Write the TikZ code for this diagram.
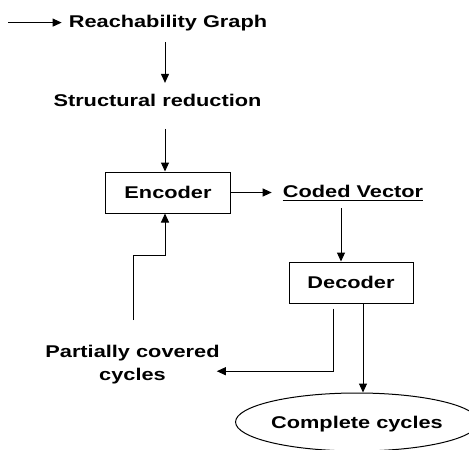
\documentclass[tikz,border=0pt]{standalone}
\usepackage{fontspec}
\setmainfont{Liberation Sans}[FakeStretch=1.28]
\usetikzlibrary{arrows.meta,shapes.geometric}
\begin{document}
\begin{tikzpicture}[x=1pt,y=-1pt,
  lab/.style={inner sep=0pt,font=\fontsize{17}{23}\selectfont\bfseries},
  box/.style={draw,line width=1pt,inner sep=0pt,minimum width=125pt,minimum height=41pt,font=\fontsize{17}{23}\selectfont\bfseries},
  arr/.style={line width=1pt,-{Triangle[length=9pt,width=8pt]}},
  ln/.style={line width=1pt}]
\useasboundingbox (0,0) rectangle (469,450);
\fill[white] (0,0) rectangle (469,450);

\coordinate (start) at (8,22.6);
\node[lab,anchor=base] (rg) at (168,27) {Reachability Graph};
\node[lab,anchor=base] (sr) at (157.5,106) {Structural reduction};
\node[box] (enc) at (168,192.5) {Encoder};
\node[lab,anchor=base] (cv) at (353,197) {Coded Vector};
\node[box,minimum width=124pt] (dec) at (351,282.5) {Decoder};
\node[lab,anchor=north,align=center] (pc) at (132.5,344.6) {Partially covered\\cycles};
\node[lab,draw,ellipse,line width=1pt,minimum width=224pt,minimum height=58pt,text depth=0pt] (cc) at (357,422) {Complete cycles};

% top arrow
\draw[arr,shorten >=7pt] (start) -- (start -| rg.west);
% rg -> sr
\draw[arr] ([shift={(-3,11.4)}]rg.south) -- ([shift={(7.5,-10.6)}]sr.north);
% sr -> enc
\coordinate (fbk) at ([xshift=-3pt]enc.south);
\coordinate (inp) at ([xshift=-3pt]enc.north);
\coordinate (c0) at (inp |- sr.south);
\draw[arr] ([shift={(0,22.4)}]c0) -- (inp);
% enc -> cv
\draw[arr,shorten >=11pt] (enc.east) -- (enc.east -| cv.west);
% underline
\draw[ln] ([shift={(0,3)}]cv.base west) -- ([shift={(0,3)}]cv.base east);
% cv -> dec
\coordinate (c1) at ([shift={(-12,11)}]cv.south);
\draw[arr] (c1) -- (c1 |- dec.north);
% feedback
\draw[arr] ([shift={(0.5,-24.6)}]pc.north) |- ([shift={(0,42)}]fbk) -- (fbk);
% dec -> pc
\draw[arr] ([shift={(-18,5)}]dec.south) |- ([shift={(-3,7)}]pc.east);
% dec -> cc
\coordinate (c2) at ([xshift=12pt]dec.south);
\draw[arr] (c2) -- (c2 |- cc.north);
\end{tikzpicture}
\end{document}
